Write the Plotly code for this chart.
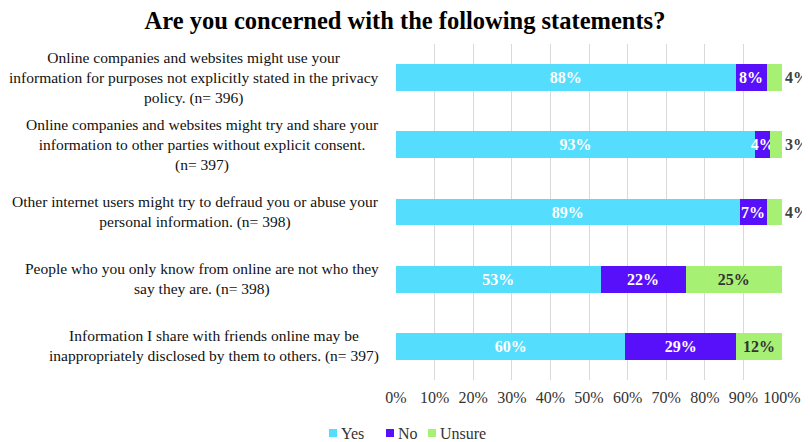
import plotly.graph_objects as go

statements = [
    "Online companies and websites might use your<br>information for purposes not explicitly stated in the privacy<br>policy. (n= 396)",
    "Online companies and websites might try and share your<br>information to other parties without explicit consent.<br>(n= 397)",
    "Other internet users might try to defraud you or abuse your<br>personal information. (n= 398)",
    "People who you only know from online are not who they<br>say they are. (n= 398)",
    "Information I share with friends online may be<br>inappropriately disclosed by them to others. (n= 397)",
]
cats = ["S1", "S2", "S3", "S4", "S5"]
yes = [88, 93, 89, 53, 60]
no = [8, 4, 7, 22, 29]
unsure = [4, 3, 4, 25, 12]
series_names = ["Yes", "No", "Unsure"]
series_colors = ["#55DDFD", "#5810FA", "#A6F074"]
xticks = list(range(0, 101, 10))

font_family = "Liberation Serif, Times New Roman, serif"

# page has an 8px body margin; figure is sized to fit the 810x442 window
OFF = 8
W, H = 810 - OFF, 442 - OFF
L, R, T, B = 396 - OFF, 28, 44 - OFF, 62
pw, ph = W - L - R, H - T - B


def px_x(p):
    return (p - OFF - L) / pw


def px_y(p):
    return (H - B - (p - OFF)) / ph


fig = go.Figure()
fig.add_trace(go.Bar(
    y=cats, x=yes, name="Yes", orientation="h",
    marker=dict(color=series_colors[0], line=dict(width=0)),
    text=[f"{v}%" for v in yes], textposition="inside", insidetextanchor="middle",
    constraintext="none", textangle=0,
    textfont=dict(family=font_family, size=16, color="white", weight="bold"),
))
fig.add_trace(go.Bar(
    y=cats, x=no, name="No", orientation="h",
    marker=dict(color=series_colors[1], line=dict(width=0)),
    text=[f"{v}%" for v in no], textposition="inside", insidetextanchor="middle",
    constraintext="none", textangle=0,
    textfont=dict(family=font_family, size=16, color="white", weight="bold"),
))
fig.add_trace(go.Bar(
    y=cats, x=unsure, name="Unsure", orientation="h",
    marker=dict(color=series_colors[2], line=dict(width=0)),
    text=[f"{v}%" for v in unsure],
    textposition=["outside", "outside", "outside", "inside", "inside"],
    insidetextanchor="middle", constraintext="none", cliponaxis=False, textangle=0,
    insidetextfont=dict(family=font_family, size=16, color="#333333", weight="bold"),
    outsidetextfont=dict(family=font_family, size=16, color="#404040", weight="bold"),
))

for c, s in zip(cats, statements):
    fig.add_annotation(
        x=px_x(381), xref="paper", y=c, yref="y", text=s,
        showarrow=False, align="center", xanchor="right", yanchor="middle",
        font=dict(family=font_family, size=15.5, color="#111111"),
    )

# compact legend
legend_sq_x = [329, 386, 428]
legend_y = 433
for name, color, sx in zip(series_names, series_colors, legend_sq_x):
    fig.add_shape(type="rect", xref="paper", yref="paper",
                  x0=px_x(sx), x1=px_x(sx + 8), y0=px_y(legend_y + 4), y1=px_y(legend_y - 4),
                  fillcolor=color, line=dict(width=0))
    fig.add_annotation(x=px_x(sx + 10), xref="paper", y=px_y(legend_y), yref="paper",
                       text=name, showarrow=False, xanchor="left", yanchor="middle",
                       font=dict(family=font_family, size=16, color="#333333"))

fig.update_layout(
    width=W, height=H,
    margin=dict(l=L, r=R, t=T, b=B, autoexpand=False),
    barmode="stack", barnorm="percent", bargap=0.6,
    paper_bgcolor="white", plot_bgcolor="white",
    title=dict(text="<b>Are you concerned with the following statements?</b>",
               x=(405 - OFF) / W, xanchor="center", xref="container",
               y=1 - (20 - OFF) / H, yanchor="middle", yref="container",
               font=dict(family=font_family, size=24.5, color="black")),
    font=dict(family=font_family, size=16, color="#333333"),
    xaxis=dict(range=[0, 100], tickvals=xticks, ticktext=[f"{t}%" for t in xticks],
               showgrid=True, gridcolor="#D9D9D9", gridwidth=1, zeroline=False,
               showline=False, ticks="", automargin=False, ticklabelstandoff=6,
               tickfont=dict(family=font_family, size=16, color="#333333")),
    yaxis=dict(autorange="reversed", showticklabels=False, showgrid=False, zeroline=False,
               showline=False, ticks="", automargin=False),
    showlegend=False,
)

fig.write_html("out.html")
